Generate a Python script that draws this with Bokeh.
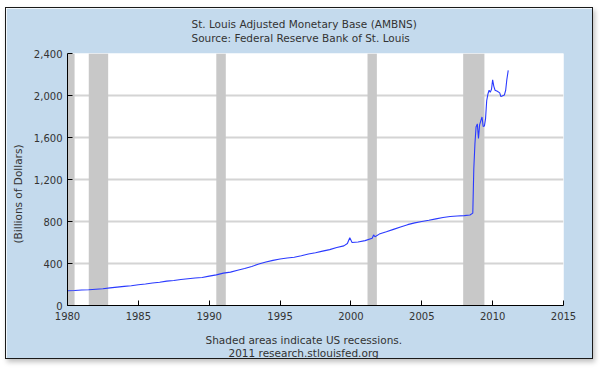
from bokeh.plotting import figure
from bokeh.models import Range1d, FixedTicker, NumeralTickFormatter, Title
from bokeh.embed import file_html
from bokeh.resources import INLINE

# ---- data ----
years = [1980.0, 1980.5, 1981.0, 1981.5, 1982.0, 1982.5, 1983.0, 1983.5, 1984.0, 1984.5,
         1985.0, 1985.5, 1986.0, 1986.5, 1987.0, 1987.5, 1988.0, 1988.5, 1989.0, 1989.5,
         1990.0, 1990.5, 1991.0, 1991.5, 1992.0, 1992.5, 1993.0, 1993.5, 1994.0, 1994.5,
         1995.0, 1995.5, 1996.0, 1996.5, 1997.0, 1997.5, 1998.0, 1998.5, 1999.0, 1999.5,
         1999.75, 1999.92, 2000.08, 2000.5, 2001.0, 2001.5, 2001.6, 2001.7, 2002.0, 2002.5,
         2003.0, 2003.5, 2004.0, 2004.5, 2005.0, 2005.5, 2006.0, 2006.5, 2007.0, 2007.5,
         2008.0, 2008.4, 2008.6, 2008.67, 2008.75, 2008.83, 2008.92, 2009.0, 2009.08, 2009.17,
         2009.25, 2009.33, 2009.42, 2009.5, 2009.58, 2009.67, 2009.75, 2009.83, 2009.92, 2010.0,
         2010.08, 2010.17, 2010.33, 2010.5, 2010.58, 2010.67, 2010.83, 2010.92, 2011.0, 2011.1]
ambns = [140, 143, 148, 150, 155, 160, 168, 175, 182, 188,
         198, 205, 214, 222, 232, 238, 248, 255, 262, 266,
         280, 292, 308, 318, 336, 352, 372, 395, 415, 430,
         443, 452, 460, 474, 490, 502, 518, 532, 552, 568,
         590, 645, 600, 605, 618, 640, 672, 655, 680, 702,
         725, 748, 770, 787, 800, 812, 825, 838, 848, 853,
         856, 862, 880, 1300, 1540, 1700, 1730, 1590, 1720, 1760,
         1795, 1705, 1710, 1780, 1950, 2015, 2050, 2030, 2060, 2150,
         2090, 2050, 2040, 2025, 1990, 1995, 2005, 2050, 2150, 2240]

rec_start = [1980.0, 1981.5, 1990.5, 2001.17, 2007.92]
rec_end = [1980.5, 1982.87, 1991.17, 2001.83, 2009.42]

x_ticks = [1980, 1985, 1990, 1995, 2000, 2005, 2010, 2015]
y_ticks = [0, 400, 800, 1200, 1600, 2000, 2400]

FONT = "DejaVu Sans"
TXT = "#333333"
BG = "#c4daed"

W, H = 588, 352
p = figure(width=W, height=H, output_backend="svg", toolbar_location=None,
           x_range=Range1d(1980, 2015), y_range=Range1d(0, 2400),
           min_border_left=61, min_border_right=31, min_border_top=45, min_border_bottom=55)
p.styles = {"border": "1px solid #1a1a1a", "box-shadow": "2px 3px 5px rgba(0,0,0,0.25)",
            "margin-left": "5px", "margin-top": "7px"}
p.border_fill_color = BG
p.background_fill_color = "white"
p.outline_line_color = None

# recessions
p.quad(left=rec_start, right=rec_end, bottom=0, top=2400,
       fill_color="#c8c8c8", line_color=None)
# series
p.line(years, ambns, line_color="#2a3aff", line_width=1.1)

# grid
p.xgrid.grid_line_color = None
p.ygrid.grid_line_color = "#d4d4d4"
p.ygrid.grid_line_width = 2
p.ygrid.ticker = FixedTicker(ticks=y_ticks)

# axes
for ax in (p.xaxis[0], p.yaxis[0]):
    ax.axis_line_color = "black"
    ax.major_tick_line_color = "black"
    ax.major_tick_in = 5
    ax.major_tick_out = 0
    ax.minor_tick_line_color = None
    ax.major_label_text_font = FONT
    ax.major_label_text_font_size = "10px"
    ax.major_label_text_color = TXT
p.xaxis.ticker = FixedTicker(ticks=x_ticks)
p.yaxis.ticker = FixedTicker(ticks=y_ticks)
p.yaxis.formatter = NumeralTickFormatter(format="0,0")
p.xaxis.major_label_standoff = 6
p.yaxis.major_label_standoff = 5
p.yaxis.axis_label_standoff = 0

def ttl(text, side, offset, standoff, valign, lh=1.0):
    p.add_layout(Title(text=text, align="left", offset=offset, standoff=standoff,
                       vertical_align=valign, text_line_height=lh,
                       text_font=FONT, text_font_size="10.5px", text_font_style="normal",
                       text_color=TXT), side)

ttl("St. Louis Adjusted Monetary Base (AMBNS)\nSource: Federal Reserve Bank of St. Louis",
    "above", 124, 17, "middle", 1.15)
ttl("Shaded areas indicate US recessions.", "below", 138, 22, "top")
ttl("2011 research.stlouisfed.org", "below", 161, -23, "top")
ttl("(Billions of Dollars)", "left", 62, 10, "top")

open("out.html", "w").write(file_html(p, INLINE))
